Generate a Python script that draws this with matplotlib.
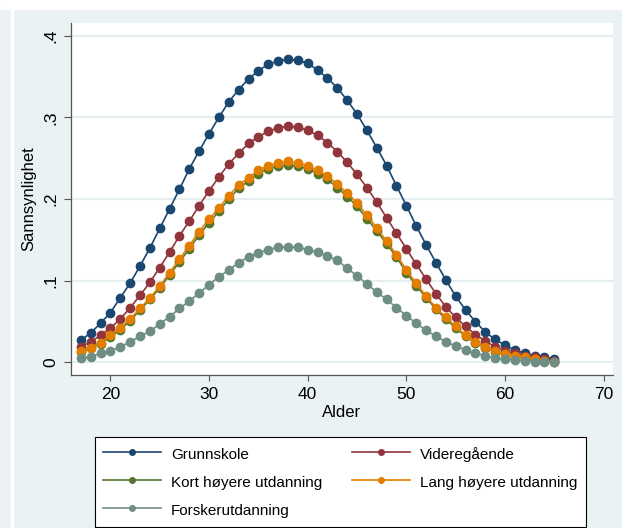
# Sannsynlighet etter alder og utdanningsnivå (Stata-stil)
import matplotlib
matplotlib.use("Agg")
import matplotlib.pyplot as plt
from matplotlib.patches import Rectangle

alder = list(range(17, 66))

grunnskole = [0.027, 0.036, 0.048, 0.061, 0.079, 0.097, 0.118, 0.140, 0.164, 0.188,
              0.212, 0.237, 0.259, 0.280, 0.300, 0.319, 0.334, 0.347, 0.357, 0.365,
              0.369, 0.371, 0.370, 0.366, 0.358, 0.348, 0.336, 0.321, 0.304, 0.284,
              0.263, 0.241, 0.216, 0.192, 0.167, 0.144, 0.122, 0.101, 0.081, 0.064,
              0.050, 0.037, 0.028, 0.021, 0.015, 0.011, 0.008, 0.006, 0.004]
videregaende = [0.019, 0.025, 0.033, 0.042, 0.053, 0.067, 0.082, 0.098, 0.116, 0.135,
                0.155, 0.173, 0.192, 0.210, 0.227, 0.243, 0.256, 0.268, 0.276, 0.283,
                0.287, 0.289, 0.288, 0.284, 0.278, 0.269, 0.258, 0.245, 0.230, 0.214,
                0.196, 0.177, 0.158, 0.139, 0.120, 0.102, 0.084, 0.068, 0.055, 0.044,
                0.034, 0.026, 0.019, 0.014, 0.011, 0.008, 0.006, 0.004, 0.002]
kort_hoyere = [0.013, 0.017, 0.023, 0.031, 0.040, 0.051, 0.064, 0.077, 0.091, 0.107,
               0.123, 0.139, 0.156, 0.171, 0.185, 0.200, 0.213, 0.222, 0.231, 0.237,
               0.240, 0.242, 0.240, 0.237, 0.231, 0.224, 0.214, 0.203, 0.191, 0.176,
               0.161, 0.145, 0.129, 0.110, 0.094, 0.079, 0.065, 0.053, 0.042, 0.032,
               0.024, 0.018, 0.013, 0.010, 0.007, 0.005, 0.003, 0.002, 0.001]
lang_hoyere = [0.014, 0.018, 0.024, 0.033, 0.042, 0.053, 0.066, 0.079, 0.093, 0.110,
               0.126, 0.143, 0.160, 0.175, 0.189, 0.204, 0.217, 0.226, 0.235, 0.241,
               0.244, 0.246, 0.244, 0.241, 0.235, 0.228, 0.218, 0.207, 0.195, 0.180,
               0.165, 0.148, 0.132, 0.113, 0.097, 0.081, 0.067, 0.055, 0.044, 0.033,
               0.025, 0.019, 0.014, 0.010, 0.008, 0.006, 0.004, 0.002, 0.001]
forsker = [0.005, 0.007, 0.011, 0.014, 0.019, 0.025, 0.032, 0.038, 0.047, 0.056,
           0.066, 0.075, 0.085, 0.095, 0.105, 0.113, 0.122, 0.129, 0.134, 0.138,
           0.141, 0.141, 0.141, 0.138, 0.135, 0.130, 0.125, 0.115, 0.106, 0.096,
           0.086, 0.077, 0.067, 0.057, 0.048, 0.039, 0.032, 0.025, 0.020, 0.015,
           0.011, 0.008, 0.005, 0.004, 0.003, 0.002, 0.001, 0.001, 0.0005]

serier = [
    ("Grunnskole", grunnskole, "#1A476F"),
    ("Videregående", videregaende, "#90353B"),
    ("Kort høyere utdanning", kort_hoyere, "#55752F"),
    ("Lang høyere utdanning", lang_hoyere, "#E37E00"),
    ("Forskerutdanning", forsker, "#6E8E84"),
]

xticks = [20, 30, 40, 50, 60, 70]
yticks = [0, 0.1, 0.2, 0.3, 0.4]
ytick_labels = ["0", ".1", ".2", ".3", ".4"]

plt.rcParams['font.family'] = ['Liberation Sans', 'DejaVu Sans']

bg = "#EAF2F3"
W, H = 622, 528
fig = plt.figure(figsize=(W / 100, H / 100), dpi=100, facecolor=bg)
# hvit stripe øverst og til venstre (skjermbilde-kant)
fig.patches.append(Rectangle((0, 1 - 9 / H), 1, 9 / H, transform=fig.transFigure,
                             color="white", zorder=0))
fig.patches.append(Rectangle((11 / W, 0), 2 / W, 1, transform=fig.transFigure,
                             color="white", zorder=0))

ax = fig.add_axes([70.5 / W, (H - 375) / H, (613 - 70.5) / W, (375 - 23) / H])
ax.set_facecolor("white")

handles = {}
for navn, verdier, farge in serier:
    h, = ax.plot(alder, verdier, color=farge, lw=1.2, marker="o", ms=6,
                 mec=farge, mfc=farge, label=navn, zorder=3)
    handles[navn] = h

ax.set_xlim(15.95, 70.95)
ax.set_ylim(-0.0155, 0.4155)
ax.set_xticks(xticks)
ax.set_yticks(yticks)
ax.set_yticklabels(ytick_labels, rotation=90, va="center")
ax.grid(axis="y", color="#E6EEF0", lw=1.5, zorder=0)
ax.set_axisbelow(True)

for s in ["top", "right"]:
    ax.spines[s].set_visible(False)
for s in ["left", "bottom"]:
    ax.spines[s].set_color("#555555")
    ax.spines[s].set_linewidth(0.9)

ax.tick_params(axis="x", length=4.3, width=0.8, color="#555555", pad=4.5,
               labelsize=12.5)
ax.tick_params(axis="y", length=5, width=0.8, color="#555555", pad=3.5,
               labelsize=12.5)
ax.set_xlabel("Alder", fontsize=12, labelpad=2)
ax.set_ylabel("Sannsynlighet", fontsize=12, labelpad=5)

# legenden fylles kolonnevis i matplotlib
rekkefolge = ["Grunnskole", "Kort høyere utdanning", "Forskerutdanning",
              "Videregående", "Lang høyere utdanning"]
leg_handles = []
for navn in rekkefolge:
    h = handles[navn]
    proxy, = ax.plot([], [], color=h.get_color(), lw=1.2, marker="o", ms=4)
    leg_handles.append(proxy)
leg = fig.legend(leg_handles, rekkefolge, loc="upper left",
                 bbox_to_anchor=(94.5 / W, 1 - 436.6 / H), ncol=2,
                 fontsize=11, frameon=True, fancybox=False, borderaxespad=0,
                 borderpad=0.55, handlelength=3.8, handleheight=1.4,
                 handletextpad=0.65, columnspacing=1.95, labelspacing=0.69)
leg.get_frame().set_edgecolor("black")
leg.get_frame().set_linewidth(0.8)
leg.get_frame().set_facecolor("white")
leg.get_frame().set_alpha(1)

fig.savefig("out.png", dpi=100, facecolor=bg)
